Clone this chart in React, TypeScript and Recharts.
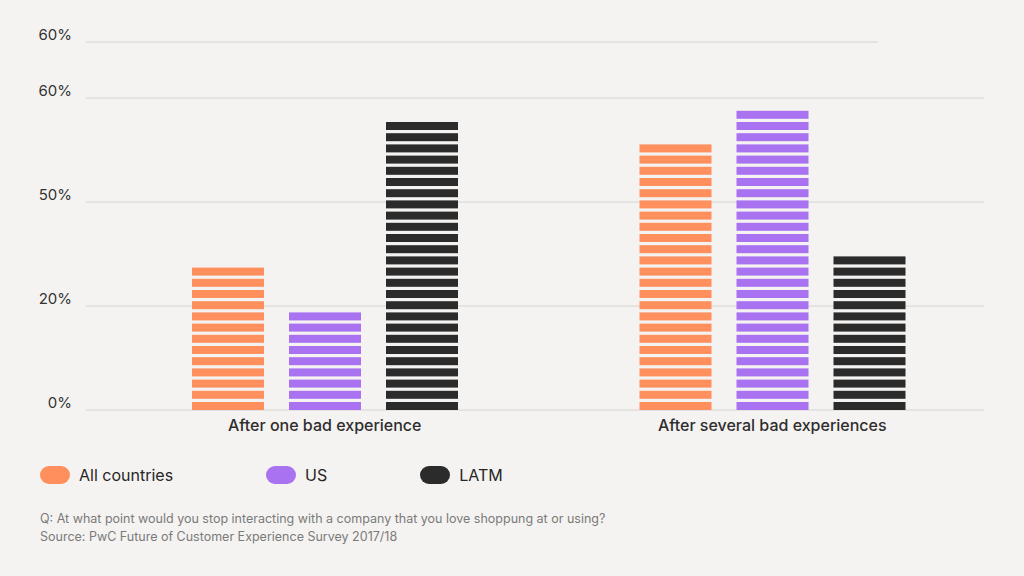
import React from 'react';
import { BarChart, Bar, XAxis, YAxis, CartesianGrid, Legend, ReferenceLine } from 'recharts';

const categories = ['After one bad experience', 'After several bad experiences'];
const allCountries = [27.4, 51.2];
const usValues = [18.8, 57.7];
const latmValues = [55.4, 29.6];
const yTicks = [0, 20, 40, 60, 70.77];
const yTickLabels = ['0%', '20%', '50%', '60%', '60%'];
const gridValues = [0, 20, 40, 60];
const topLineValue = 70.77;
const seriesKeys = ['all', 'us', 'latm'];
const seriesNames = ['All countries', 'US', 'LATM'];
const seriesColors = ['#FF8F5C', '#A872F0', '#2B2B2B'];
const footnotes = [
  'Q: At what point would you stop interacting with a company that you love shoppung at or using?',
  'Source: PwC Future of Customer Experience Survey 2017/18',
];

const data = categories.map((name, i) => ({
  name,
  all: allCountries[i],
  us: usValues[i],
  latm: latmValues[i],
}));

const FONT = 'Inter, "Noto Sans", sans-serif';
const BG = '#F5F3F1';
const GRID = '#D6D4D1';

const StripedBar = (props: any) => {
  const { x, y, width, height, fill } = props;
  if (!height || height <= 0) return null;
  const period = 11.2;
  const stripe = 8;
  const bottom = y + height;
  const rects: any[] = [];
  for (let i = 0; i < 200; i++) {
    const yb = bottom - i * period;
    if (yb - y < 1.5) break;
    const yt = Math.max(yb - stripe, y);
    rects.push(<rect key={i} x={x} y={yt} width={width} height={yb - yt} fill={fill} />);
  }
  return <g>{rects}</g>;
};

const YTick = (props: any) => {
  const { x, y, payload } = props;
  const idx = yTicks.indexOf(payload.value);
  return (
    <text x={x} y={y - 6} textAnchor="end" dominantBaseline="middle" fontSize={15} fontFamily={FONT} fill="#333">
      {idx >= 0 ? yTickLabels[idx] : ''}
    </text>
  );
};

const XTick = (props: any) => {
  const { x, y, payload } = props;
  return (
    <text x={x} y={y + 21} textAnchor="middle" fontSize={16} fontWeight={500} fontFamily={FONT} fill="#2E2E2E">
      {payload.value}
    </text>
  );
};

const TopLine = (props: any) => {
  const { x1, y1 } = props;
  return <line x1={x1 - 15} y1={y1} x2={878} y2={y1} stroke={GRID} strokeWidth={1} />;
};

const renderLegend = () => (
  <div style={{ display: 'flex', alignItems: 'center', fontFamily: FONT, fontSize: 16, color: '#262626', height: 18 }}>
    {seriesNames.map((n, i) => (
      <div key={n} style={{ display: 'flex', alignItems: 'center', marginRight: 93 }}>
        <span
          style={{
            display: 'inline-block',
            width: 30,
            height: 18,
            borderRadius: 9,
            background: seriesColors[i],
            marginRight: 9,
          }}
        />
        <span>{n}</span>
      </div>
    ))}
  </div>
);

export default function App() {
  return (
    <div style={{ position: 'absolute', left: 0, top: 0, width: 1024, height: 576, background: BG, overflow: 'hidden' }}>
      <BarChart
        width={1024}
        height={576}
        data={data}
        margin={{ top: 42, right: 28, bottom: 136, left: 41 }}
        barSize={72}
        barGap={25}
      >
        <CartesianGrid x={86} width={898} horizontal={true} vertical={false} horizontalValues={gridValues} stroke={GRID} strokeDasharray="" />
        <ReferenceLine y={topLineValue} ifOverflow="extendDomain" shape={TopLine} />
        <XAxis dataKey="name" axisLine={false} tickLine={false} tickSize={0} tickMargin={0} height={30} tick={XTick} interval={0} />
        <YAxis
          type="number"
          domain={[0, topLineValue]}
          ticks={yTicks}
          axisLine={false}
          tickLine={false}
          tickSize={0}
          tickMargin={29}
          width={60}
          tick={YTick}
          interval={0}
        />
        <Legend
          content={renderLegend}
          layout="horizontal"
          verticalAlign="middle"
          align="center"
          wrapperStyle={{ left: 40, top: 466, width: 'auto', height: 18 }}
        />
        {seriesKeys.map((k, i) => (
          <Bar key={k} dataKey={k} name={seriesNames[i]} fill={seriesColors[i]} shape={StripedBar} isAnimationActive={false} />
        ))}
      </BarChart>
      <div
        style={{
          position: 'absolute',
          left: 40,
          top: 510,
          fontFamily: FONT,
          fontSize: 12.5,
          lineHeight: '18px',
          color: '#7A7A7A',
        }}
      >
        {footnotes.map((t) => (
          <div key={t}>{t}</div>
        ))}
      </div>
    </div>
  );
}
